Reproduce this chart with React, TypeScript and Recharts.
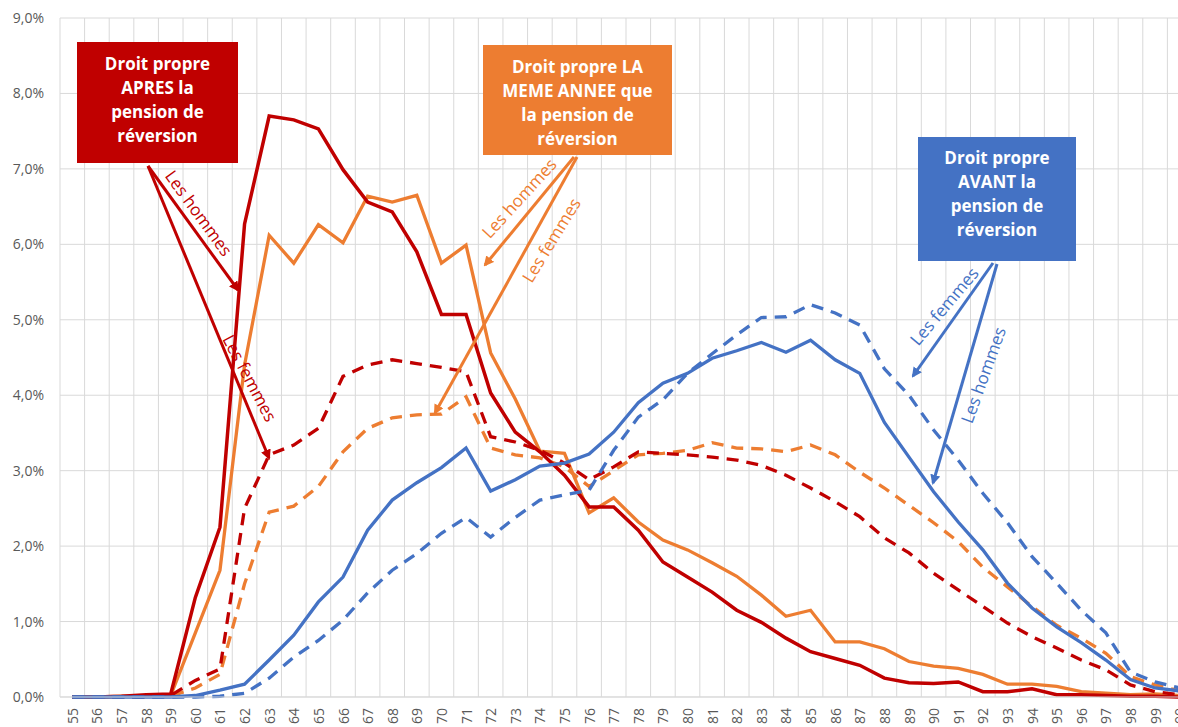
import React from "react";
import { LineChart, Line, XAxis, YAxis, CartesianGrid } from "recharts";

// âge à la liquidation (55 à 100 ans), en %
const ages = [
  55, 56, 57, 58, 59, 60, 61, 62, 63, 64, 65, 66, 67, 68, 69, 70, 71, 72, 73, 74, 75, 76, 77,
  78, 79, 80, 81, 82, 83, 84, 85, 86, 87, 88, 89, 90, 91, 92, 93, 94, 95, 96, 97, 98, 99, 100,
];

const apresHommes = [
  0, 0, 0.01, 0.03, 0.04, 1.32, 2.25, 6.27, 7.7, 7.65, 7.53, 6.99, 6.56, 6.43, 5.9, 5.07, 5.07,
  4.03, 3.51, 3.25, 2.94, 2.52, 2.52, 2.21, 1.79, 1.59, 1.39, 1.15, 0.99, 0.78, 0.6, 0.51, 0.42,
  0.25, 0.19, 0.18, 0.2, 0.07, 0.07, 0.11, 0.03, 0.03, 0.02, 0.01, 0.01, 0,
];
const apresFemmes = [
  0, 0, 0, 0, 0.02, 0.22, 0.37, 2.5, 3.21, 3.34, 3.56, 4.25, 4.4, 4.47, 4.42, 4.37, 4.31, 3.45,
  3.38, 3.27, 3.1, 2.88, 3.05, 3.25, 3.23, 3.21, 3.18, 3.14, 3.07, 2.94, 2.77, 2.59, 2.39, 2.11,
  1.91, 1.64, 1.42, 1.2, 0.98, 0.8, 0.65, 0.49, 0.36, 0.16, 0.07, 0.03,
];
const memeHommes = [
  0, 0, 0.01, 0.01, 0.02, 0.85, 1.68, 4.4, 6.12, 5.75, 6.26, 6.02, 6.64, 6.56, 6.65, 5.75, 5.99,
  4.56, 3.95, 3.26, 3.23, 2.44, 2.64, 2.32, 2.08, 1.95, 1.78, 1.6, 1.35, 1.07, 1.15, 0.73, 0.73,
  0.64, 0.47, 0.41, 0.38, 0.3, 0.17, 0.17, 0.14, 0.07, 0.05, 0.03, 0.04, 0.02,
];
const memeFemmes = [
  0, 0, 0, 0, 0.01, 0.12, 0.3, 1.5, 2.45, 2.53, 2.79, 3.25, 3.56, 3.7, 3.74, 3.75, 3.98, 3.3,
  3.21, 3.17, 3.05, 2.79, 3.0, 3.21, 3.23, 3.27, 3.37, 3.3, 3.29, 3.25, 3.34, 3.21, 2.98, 2.77,
  2.54, 2.31, 2.06, 1.72, 1.46, 1.2, 0.95, 0.78, 0.58, 0.27, 0.16, 0.08,
];
const avantHommes = [
  0, 0, 0, 0, 0, 0.02, 0.09, 0.17, 0.49, 0.82, 1.26, 1.59, 2.21, 2.61, 2.84, 3.04, 3.3, 2.73,
  2.88, 3.06, 3.1, 3.22, 3.51, 3.9, 4.16, 4.29, 4.49, 4.59, 4.7, 4.57, 4.73, 4.47, 4.29, 3.64,
  3.18, 2.72, 2.32, 1.95, 1.51, 1.18, 0.93, 0.72, 0.49, 0.23, 0.12, 0.08,
];
const avantFemmes = [
  0, 0, 0, 0, 0, 0, 0.01, 0.05, 0.25, 0.53, 0.75, 1.02, 1.38, 1.68, 1.9, 2.17, 2.38, 2.12, 2.38,
  2.61, 2.68, 2.74, 3.27, 3.71, 3.94, 4.29, 4.55, 4.8, 5.03, 5.04, 5.2, 5.09, 4.93, 4.35, 4.0,
  3.54, 3.14, 2.7, 2.31, 1.86, 1.51, 1.15, 0.85, 0.33, 0.2, 0.12,
];

const yTicks = [0, 1, 2, 3, 4, 5, 6, 7, 8, 9];

const RED = "#C00000";
const ORANGE = "#ED7D31";
const BLUE = "#4472C4";
const FONT = "'Open Sans', sans-serif";

const data = ages.map((age, i) => ({
  age,
  apresHommes: apresHommes[i],
  apresFemmes: apresFemmes[i],
  memeHommes: memeHommes[i],
  memeFemmes: memeFemmes[i],
  avantHommes: avantHommes[i],
  avantFemmes: avantFemmes[i],
}));

// séparations entre catégories pour le quadrillage vertical
const gridX = [...ages.map((a) => a - 0.5), ages[ages.length - 1] + 0.5];

const fmtPct = (v: number) => `${v.toFixed(1).replace(".", ",")}%`;

const AgeTick = (props: any) => {
  const { x, y, payload } = props;
  return (
    <text
      x={x}
      y={y}
      transform={`rotate(-90, ${x}, ${y})`}
      textAnchor="end"
      dominantBaseline="central"
      fill="#595959"
      fontSize={14}
      fontFamily={FONT}
    >
      {payload.value}
    </text>
  );
};

const Callout = ({ x, y, w, h, fill, lines, firstY }: any) => (
  <g>
    <rect x={x} y={y} width={w} height={h} fill={fill} />
    {lines.map((t: string, i: number) => (
      <text
        key={t}
        x={x + w / 2}
        y={firstY + i * 24.3}
        textAnchor="middle"
        dominantBaseline="central"
        fill="#fff"
        fontWeight="bold"
        fontSize={17}
        fontFamily={FONT}
      >
        {t}
      </text>
    ))}
  </g>
);

const Arrow = ({ from, to, color }: any) => (
  <line
    x1={from[0]}
    y1={from[1]}
    x2={to[0]}
    y2={to[1]}
    stroke={color}
    strokeWidth={3}
    markerEnd={`url(#head-${color.slice(1)})`}
  />
);

const Tag = ({ x, y, angle, color, children }: any) => (
  <text
    x={x}
    y={y}
    transform={`rotate(${angle}, ${x}, ${y})`}
    textAnchor="middle"
    dominantBaseline="central"
    fill={color}
    fontSize={17}
    fontFamily={FONT}
  >
    {children}
  </text>
);

const Annotations = () => (
  <svg
    width={1178}
    height={727}
    style={{ position: "absolute", left: 0, top: 0, pointerEvents: "none" }}
  >
    <defs>
      {[RED, ORANGE, BLUE].map((c) => (
        <marker
          key={c}
          id={`head-${c.slice(1)}`}
          viewBox="0 0 10 10"
          refX={8}
          refY={5}
          markerWidth={3.4}
          markerHeight={3.4}
          orient="auto"
        >
          <path d="M0,0 L10,5 L0,10 z" fill={c} />
        </marker>
      ))}
    </defs>

    <Callout
      x={77}
      y={42}
      w={161}
      h={121}
      fill={RED}
      firstY={63}
      lines={["Droit propre", "APRES la", "pension de", "réversion"]}
    />
    <Arrow from={[148, 166]} to={[238, 290]} color={RED} />
    <Arrow from={[148, 166]} to={[269, 458]} color={RED} />
    <Tag x={199} y={213} angle={54} color={RED}>Les hommes</Tag>
    <Tag x={250} y={378} angle={62} color={RED}>Les femmes</Tag>

    <Callout
      x={483}
      y={45}
      w={189}
      h={110}
      fill={ORANGE}
      firstY={66}
      lines={["Droit propre LA", "MEME ANNEE que", "la pension de", "réversion"]}
    />
    <Arrow from={[574, 157]} to={[485, 265]} color={ORANGE} />
    <Arrow from={[577, 157]} to={[435, 413]} color={ORANGE} />
    <Tag x={519} y={198} angle={-47.6} color={ORANGE}>Les hommes</Tag>
    <Tag x={551} y={240} angle={-58.5} color={ORANGE}>Les femmes</Tag>

    <Callout
      x={918}
      y={137}
      w={158}
      h={124}
      fill={BLUE}
      firstY={157}
      lines={["Droit propre", "AVANT la", "pension de", "réversion"]}
    />
    <Arrow from={[993, 263]} to={[913, 376]} color={BLUE} />
    <Arrow from={[997, 264]} to={[933, 483]} color={BLUE} />
    <Tag x={944} y={306} angle={-50} color={BLUE}>Les femmes</Tag>
    <Tag x={983} y={375} angle={-70} color={BLUE}>Les hommes</Tag>
  </svg>
);

export default function App() {
  return (
    <div
      style={{
        position: "absolute",
        left: 0,
        top: 0,
        width: 1178,
        height: 727,
        overflow: "hidden",
        background: "#fff",
        fontFamily: FONT,
      }}
    >
      <LineChart
        width={1210}
        height={727}
        data={data}
        margin={{ top: 18, right: 18, left: 0, bottom: 0 }}
      >
        <CartesianGrid stroke="#d9d9d9" verticalValues={gridX} />
        <XAxis
          dataKey="age"
          type="number"
          domain={[54.5, 100.5]}
          ticks={ages}
          interval={0}
          height={30}
          tickSize={0}
          tickMargin={11}
          axisLine={{ stroke: "#d9d9d9" }}
          tickLine={false}
          tick={<AgeTick />}
        />
        <YAxis
          domain={[0, 9]}
          ticks={yTicks}
          width={60}
          tickSize={0}
          tickMargin={16}
          axisLine={false}
          tickLine={false}
          tickFormatter={fmtPct}
          tick={{ fill: "#595959", fontSize: 14, fontFamily: FONT }}
        />
        <Line dataKey="memeFemmes" stroke={ORANGE} strokeWidth={3.3} strokeDasharray="12 8" dot={false} isAnimationActive={false} />
        <Line dataKey="memeHommes" stroke={ORANGE} strokeWidth={3.3} dot={false} isAnimationActive={false} />
        <Line dataKey="apresFemmes" stroke={RED} strokeWidth={3.3} strokeDasharray="12 8" dot={false} isAnimationActive={false} />
        <Line dataKey="apresHommes" stroke={RED} strokeWidth={3.5} dot={false} isAnimationActive={false} />
        <Line dataKey="avantFemmes" stroke={BLUE} strokeWidth={3.3} strokeDasharray="12 8" dot={false} isAnimationActive={false} />
        <Line dataKey="avantHommes" stroke={BLUE} strokeWidth={3.3} dot={false} isAnimationActive={false} />
      </LineChart>
      <Annotations />
    </div>
  );
}
